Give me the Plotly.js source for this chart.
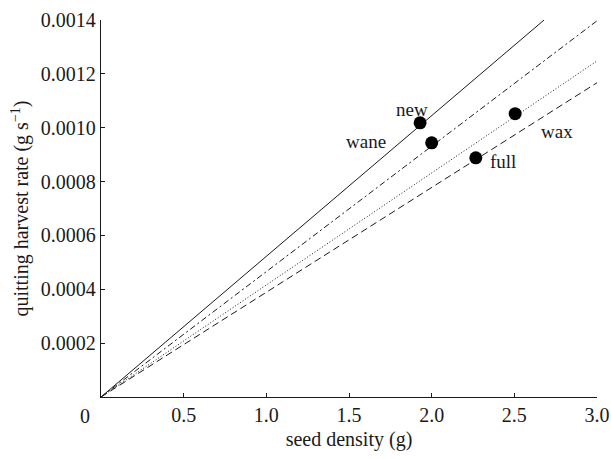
<!DOCTYPE html>
<html>
<head>
<meta charset="utf-8">
<script src="https://cdn.plot.ly/plotly-3.0.1.min.js"></script>
<style>html,body{margin:0;padding:0;background:#fff;}#chart{width:611px;height:459px;}</style>
</head>
<body>
<div id="chart"></div>
<script>
// Lines through the origin: end points
const lineNames = ["new", "wane", "wax", "full"];
const lineEndX = [2.68, 3.0, 3.0, 3.0];
const lineEndY = [0.0014, 0.001397, 0.001248, 0.001167];
const lineDash = ["solid", "6px,3px,2px,3px", "1px,2px", "7px,4px"];

// Phase points
const pointX = [1.93, 2.0, 2.505, 2.267];
const pointY = [0.001018, 0.000944, 0.001052, 0.000888];

// Labels
const labelText = ["new", "wane", "wax", "full"];
const labelX = [1.88, 1.60, 2.76, 2.43];
const labelY = [0.001068, 0.000950, 0.000987, 0.000875];

const xTickVals = [0.5, 1.0, 1.5, 2.0, 2.5, 3.0];
const xTickText = ["0.5", "1.0", "1.5", "2.0", "2.5", "3.0"];
const yTickVals = [0.0002, 0.0004, 0.0006, 0.0008, 0.0010, 0.0012, 0.0014];
const yTickText = ["0.0002", "0.0004", "0.0006", "0.0008", "0.0010", "0.0012", "0.0014"];

const FONT = "Liberation Serif, Times New Roman, serif";
const INK = "#1a1a1a";

const traces = [];
for (let i = 0; i < lineNames.length; i++) {
  traces.push({
    type: "scatter", mode: "lines", name: lineNames[i],
    x: [0, lineEndX[i]], y: [0, lineEndY[i]],
    line: {color: INK, width: 1, dash: lineDash[i]},
    hoverinfo: "skip", showlegend: false
  });
}
traces.push({
  type: "scatter", mode: "markers", x: pointX, y: pointY,
  marker: {color: "#000", size: 13}, showlegend: false, cliponaxis: false
});

const annotations = labelText.map((t, i) => ({
  text: t, x: labelX[i], y: labelY[i], xref: "x", yref: "y",
  showarrow: false, font: {family: FONT, size: 19, color: INK}
}));
annotations.push({
  text: "0", xref: "paper", yref: "paper", x: 0, y: 0,
  xanchor: "center", yanchor: "top", xshift: -16, yshift: -6,
  showarrow: false, font: {family: FONT, size: 20, color: INK}
});

const layout = {
  width: 611, height: 459,
  margin: {l: 101, r: 14, t: 20, b: 62},
  paper_bgcolor: "#fff", plot_bgcolor: "#fff",
  showlegend: false,
  font: {family: FONT, size: 20, color: INK},
  xaxis: {
    range: [0, 3.0], tickvals: xTickVals, ticktext: xTickText,
    showline: true, linecolor: INK, linewidth: 1.3, mirror: false,
    ticks: "inside", ticklen: 4, tickcolor: INK, tickwidth: 1,
    showgrid: false, zeroline: false, fixedrange: true,
    tickfont: {family: FONT, size: 20, color: INK},
    title: {text: "seed density (g)", font: {family: FONT, size: 20, color: INK}, standoff: 6}
  },
  yaxis: {
    range: [0, 0.0014], tickvals: yTickVals, ticktext: yTickText,
    showline: true, linecolor: INK, linewidth: 1.3, mirror: false,
    ticks: "inside", ticklen: 4, tickcolor: INK, tickwidth: 1,
    showgrid: false, zeroline: false, fixedrange: true,
    tickfont: {family: FONT, size: 20, color: INK},
    title: {text: "quitting harvest rate (g s<sup>\u22121</sup>)", font: {family: FONT, size: 20, color: INK}, standoff: 6}
  },
  annotations: annotations
};

Plotly.newPlot("chart", traces, layout, {displayModeBar: false, staticPlot: true});
</script>
</body>
</html>
